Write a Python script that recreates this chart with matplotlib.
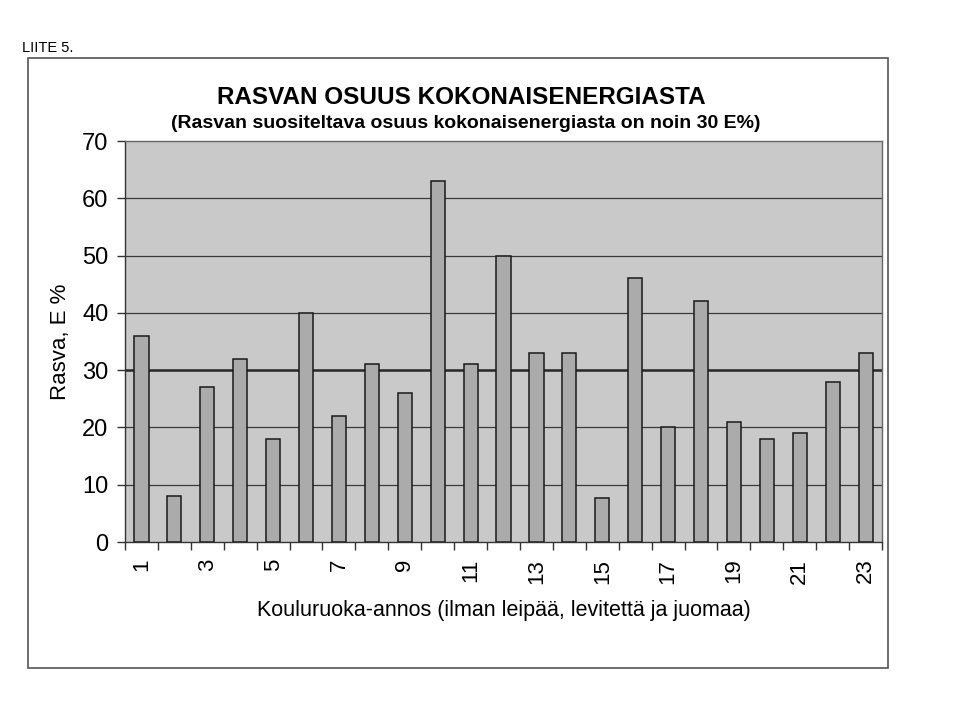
import matplotlib.pyplot as plt
from matplotlib.patches import Rectangle

plt.rcParams["font.family"] = ["Liberation Sans", "DejaVu Sans"]

# Kouluruoka-annokset 1..23 ja rasvan osuus (E %)
annos = list(range(1, 24))
rasva = [36, 8, 27, 32, 18, 40, 22, 31, 26, 63, 31, 50,
         33, 33, 7.7, 46, 20, 42, 21, 18, 19, 28, 33]
y_ticks = [0, 10, 20, 30, 40, 50, 60, 70]
suositus = 30

fig = plt.figure(figsize=(9.6, 7.05), dpi=100)
ax = fig.add_axes([0.1302, 0.2312, 0.7886, 0.5688])

ax.set_facecolor("#c9c9c9")
ax.bar(annos, rasva, width=0.43, color="#ababab", edgecolor="#1a1a1a",
       linewidth=1.1, zorder=3)

ax.set_xlim(0.5, 23.5)
ax.set_ylim(0, 70)
ax.set_yticks(y_ticks)
for v in y_ticks[1:-1]:
    ax.axhline(v, color="#3a3a3a", lw=0.9, zorder=1)
ax.axhline(suositus, color="#2a2a2a", lw=1.8, zorder=2)

# x-akselin jakoviivat luokkien rajoilla, numerot parittomille
ax.set_xticks([i + 0.5 for i in range(0, 24)], minor=False)
ax.set_xticklabels([])
ax.set_xticks(annos[::2], minor=True)
ax.set_xticklabels([str(a) for a in annos[::2]], minor=True, rotation=90,
                   fontsize=16)
ax.tick_params(axis="x", which="major", length=6, width=1, direction="out",
               color="#333333")
ax.tick_params(axis="x", which="minor", length=0, pad=12)
ax.tick_params(axis="y", length=6, width=1, direction="out", labelsize=17,
               pad=6, color="#333333")

for side in ["top", "right"]:
    ax.spines[side].set_color("#666666")
    ax.spines[side].set_linewidth(1.0)
for side in ["left", "bottom"]:
    ax.spines[side].set_color("#333333")
    ax.spines[side].set_linewidth(1.0)

ax.set_ylabel("Rasva, E %", fontsize=16, labelpad=8)
ax.set_xlabel("Kouluruoka-annos (ilman leipää, levitettä ja juomaa)",
              fontsize=15.5, labelpad=12)

fig.text(461 / 960, 1 - 97 / 705, "RASVAN OSUUS KOKONAISENERGIASTA",
         ha="center", va="center", fontsize=17.5, fontweight="bold")
fig.text(466 / 960, 1 - 123 / 705,
         "(Rasvan suositeltava osuus kokonaisenergiasta on noin 30 E%)",
         ha="center", va="center", fontsize=14, fontweight="bold")
fig.text(22 / 960, 1 - 48 / 705, "LIITE 5.", ha="left", va="center",
         fontsize=10.5)

frame = Rectangle((28 / 960, 1 - 668 / 705), 860 / 960, 610 / 705,
                  transform=fig.transFigure, fill=False, edgecolor="#555555",
                  linewidth=1.2)
fig.patches.append(frame)

fig.savefig("out.png", dpi=100, facecolor="white")
